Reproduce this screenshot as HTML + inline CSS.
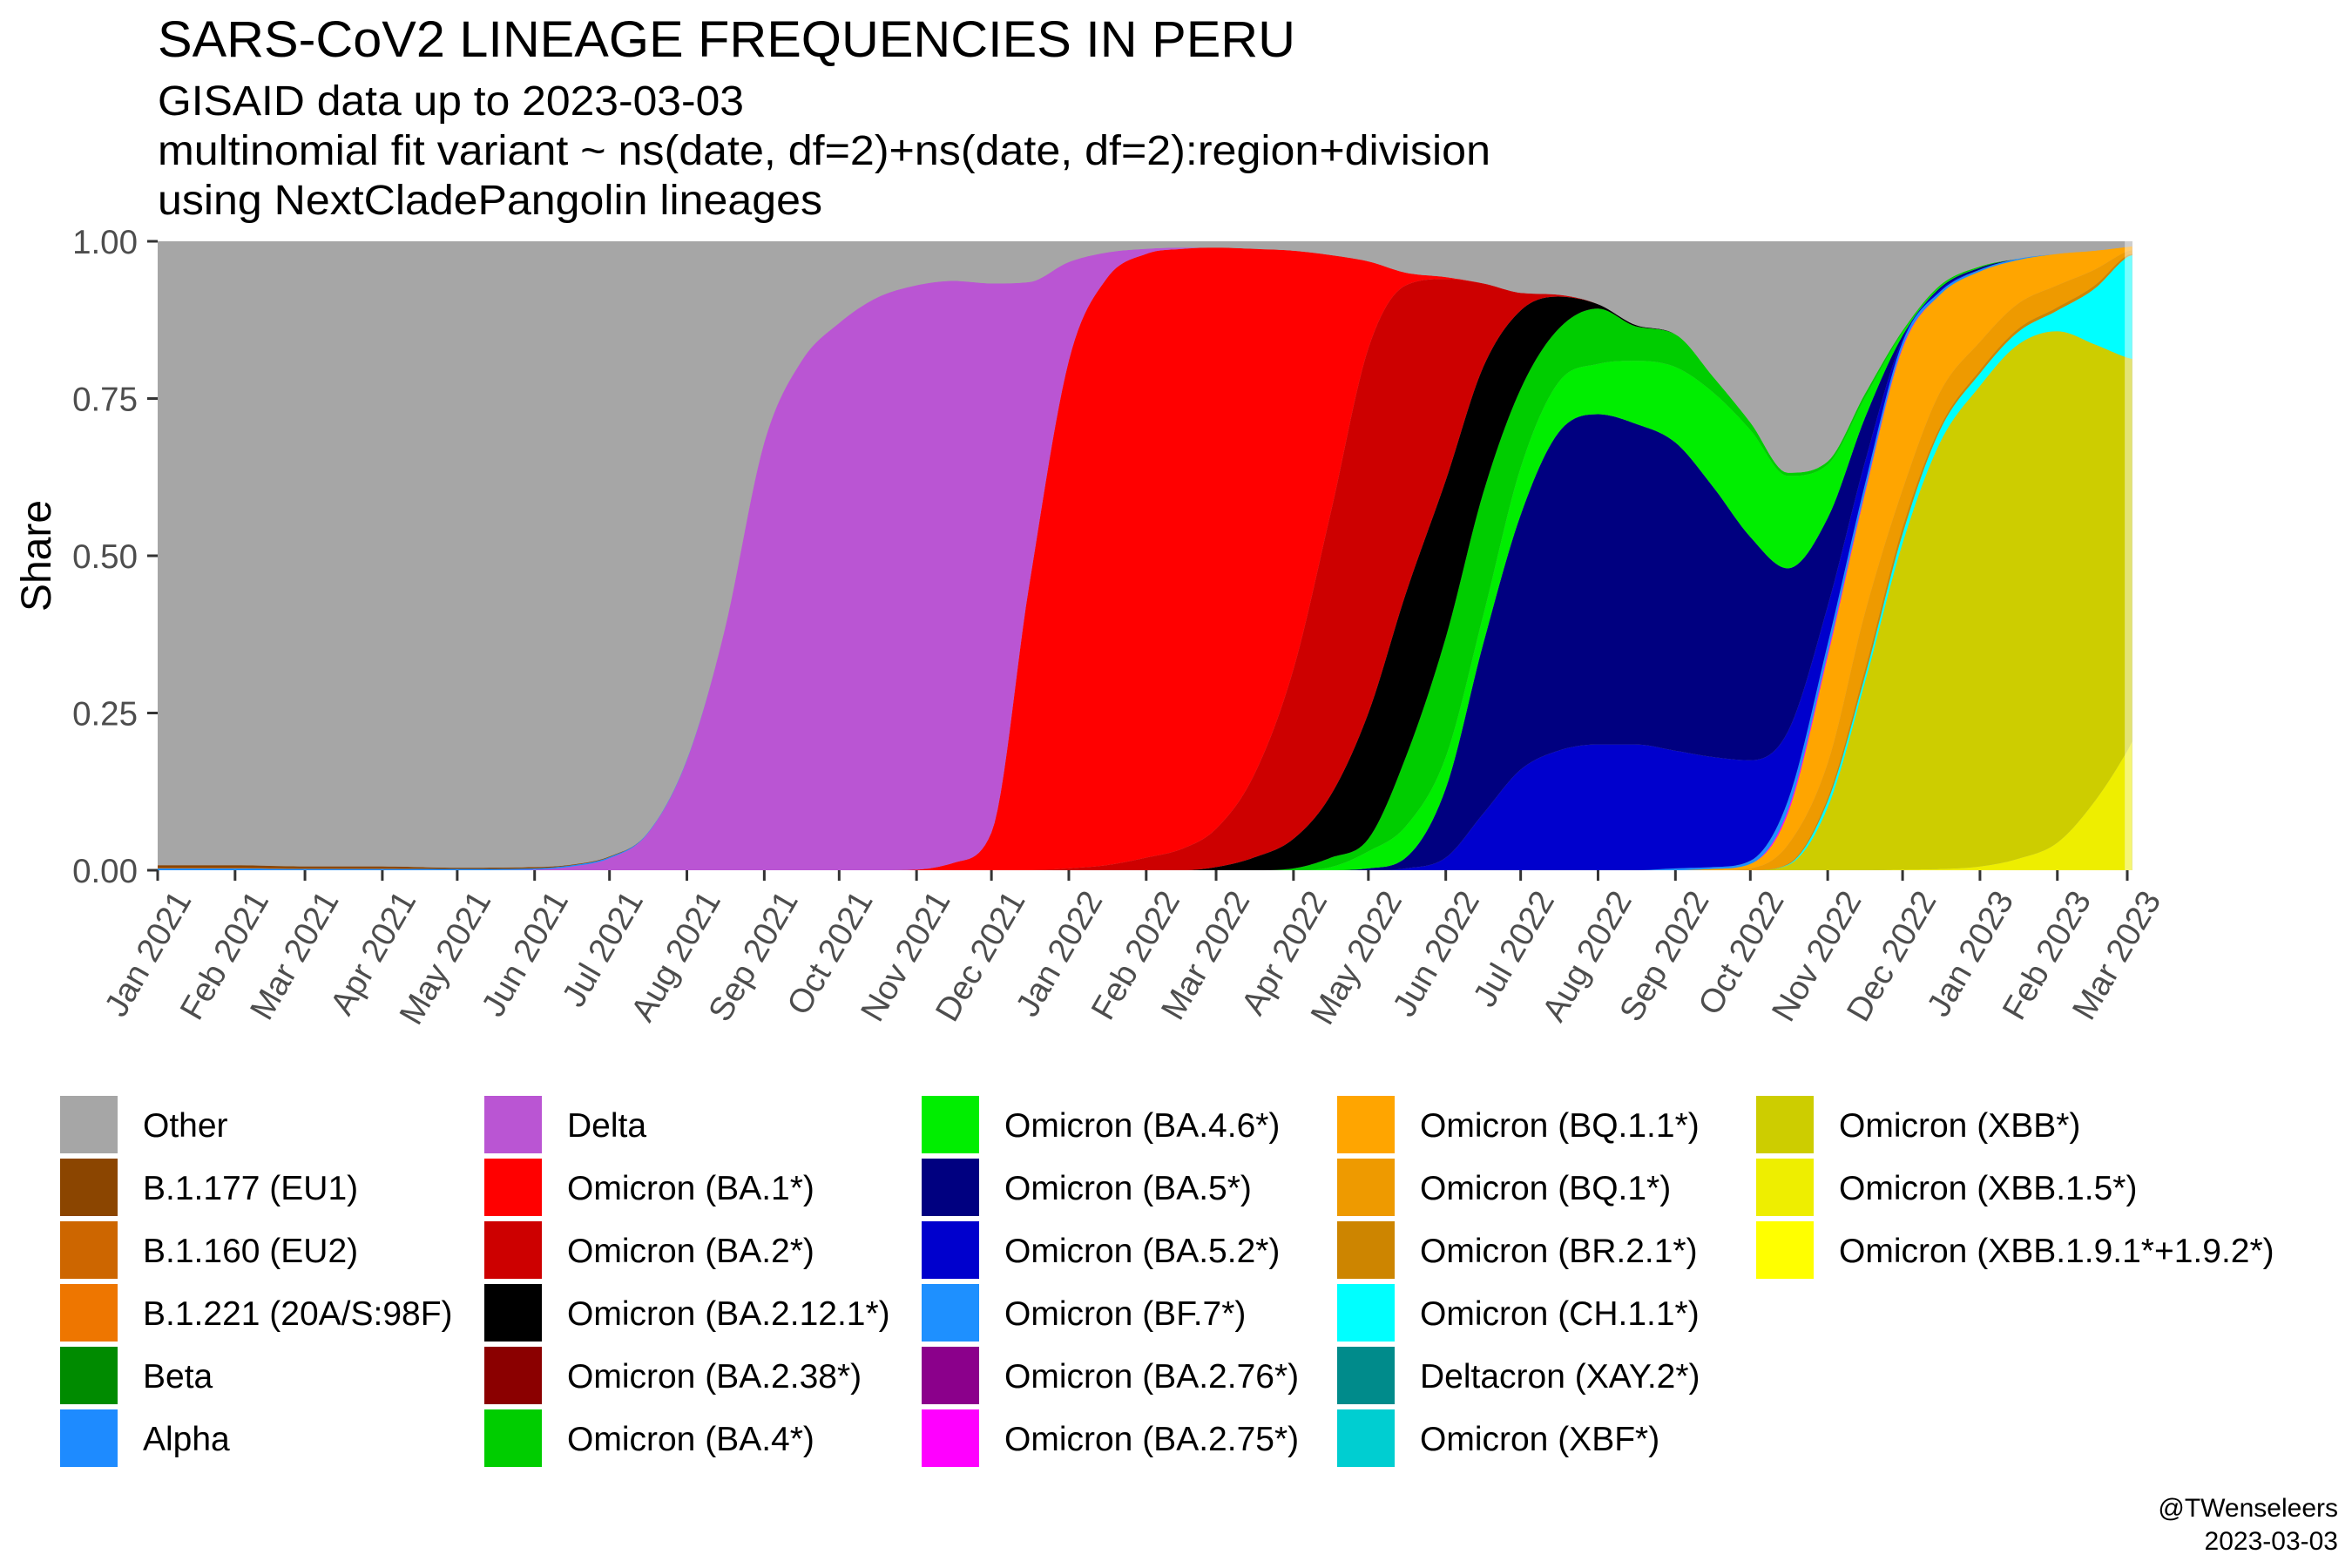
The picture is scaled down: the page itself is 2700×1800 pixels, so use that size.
<!DOCTYPE html>
<html><head><meta charset="utf-8">
<style>
html,body{margin:0;padding:0;background:#fff;}
svg{display:block;font-family:"Liberation Sans",Arial,sans-serif;}
</style></head>
<body>
<svg id="chart" width="2700" height="1800" viewBox="0 0 2700 1800">
  <text x="181" y="65" font-size="58" fill="#000" textLength="1306" lengthAdjust="spacingAndGlyphs">SARS-CoV2 LINEAGE FREQUENCIES IN PERU</text>
  <text x="181" y="132" font-size="48" fill="#000" textLength="673" lengthAdjust="spacingAndGlyphs">GISAID data up to 2023-03-03</text>
  <text x="181" y="189" font-size="48" fill="#000" textLength="1530" lengthAdjust="spacingAndGlyphs">multinomial fit variant ~ ns(date, df=2)+ns(date, df=2):region+division</text>
  <text x="181" y="246" font-size="48" fill="#000" textLength="763" lengthAdjust="spacingAndGlyphs">using NextCladePangolin lineages</text>
  <rect x="181" y="277" width="2267" height="722" fill="#A6A6A6"/>
  <g id="areas"></g>
  <g id="yaxis"></g>
  <g id="xaxis"></g>
  <text x="0" y="0" font-size="48" fill="#000" text-anchor="middle" transform="translate(58,638) rotate(-90)">Share</text>
  <g id="legend"></g>
  <text x="2684" y="1741" font-size="30" fill="#000" text-anchor="end">@TWenseleers</text>
  <text x="2684" y="1779" font-size="30" fill="#000" text-anchor="end">2023-03-03</text>
</svg>
<script>
const dates = ["2021-01-01","2021-02-01","2021-03-01","2021-04-01","2021-05-01","2021-06-01","2021-06-16","2021-07-01","2021-07-16","2021-08-01",
"2021-08-16","2021-09-01","2021-09-16","2021-10-01","2021-10-16","2021-11-01","2021-11-16","2021-12-01","2021-12-16","2022-01-01",
"2022-01-16","2022-02-01","2022-02-16","2022-03-01","2022-03-16","2022-04-01","2022-04-16","2022-05-01","2022-05-16","2022-06-01",
"2022-06-16","2022-07-01","2022-07-16","2022-08-01","2022-08-16","2022-09-01","2022-09-16","2022-10-01","2022-10-16","2022-11-01",
"2022-11-16","2022-12-01","2022-12-16","2023-01-01","2023-01-16","2023-02-01","2023-02-16","2023-03-01","2023-03-03"];

const xbb191 = [0,0,0,0,0,0,0,0,0,0, 0,0,0,0,0,0,0,0,0,0, 0,0,0,0,0,0,0,0,0,0, 0,0,0,0,0,0,0,0,0,0, 0,0,0,0,0,0,0,0,0];
const xbb15  = [0,0,0,0,0,0,0,0,0,0, 0,0,0,0,0,0,0,0,0,0, 0,0,0,0,0,0,0,0,0,0, 0,0,0,0,0,0,0,0,0,0, 0,.001,.002,.006,.018,.044,.11,.19,.205];
const xbb    = [0,0,0,0,0,0,0,0,0,0, 0,0,0,0,0,0,0,0,0,0, 0,0,0,0,0,0,0,0,0,0, 0,0,0,0,0,0,0,0,.008,.10, .30,.519,.678,.764,.817,.813,.726,.625,.608];
const xbf    = [0,0,0,0,0,0,0,0,0,0, 0,0,0,0,0,0,0,0,0,0, 0,0,0,0,0,0,0,0,0,0, 0,0,0,0,0,0,0,0,0,0, 0,0,0,0,0,0,0,0,0];
const xay2   = [0,0,0,0,0,0,0,0,0,0, 0,0,0,0,0,0,0,0,0,0, 0,0,0,0,0,0,0,0,0,0, 0,0,0,0,0,0,0,0,0,0, 0,0,0,0,0,0,0,0,0];
const ch11   = [0,0,0,0,0,0,0,0,0,0, 0,0,0,0,0,0,0,0,0,0, 0,0,0,0,0,0,0,0,0,0, 0,0,0,0,0,0,0,0,.001,.01, .01,.015,.02,.02,.02,.033,.089,.16,.165];
const br21   = [0,0,0,0,0,0,0,0,0,0, 0,0,0,0,0,0,0,0,0,0, 0,0,0,0,0,0,0,0,0,0, 0,0,0,0,0,0,0,0,.001,.005, .01,.01,.005,.005,.005,.005,.005,.003,.002];
const bq1    = [0,0,0,0,0,0,0,0,0,0, 0,0,0,0,0,0,0,0,0,0, 0,0,0,0,0,0,0,0,0,0, 0,0,0,0,0,0,0,.003,.03,.055, .09,.06,.055,.045,.04,.035,.025,.006,.006];
const bq11   = [0,0,0,0,0,0,0,0,0,0, 0,0,0,0,0,0,0,0,0,0, 0,0,0,0,0,0,0,0,0,0, 0,0,0,0,0,0,.002,.007,.05,.17, .19,.225,.155,.112,.07,.05,.03,.007,.006];
const ba275  = [0,0,0,0,0,0,0,0,0,0, 0,0,0,0,0,0,0,0,0,0, 0,0,0,0,0,0,0,0,0,0, 0,0,0,0,0,0,0,0,.005,.005, .003,.002,0,0,0,0,0,0,0];
const ba276  = [0,0,0,0,0,0,0,0,0,0, 0,0,0,0,0,0,0,0,0,0, 0,0,0,0,0,0,0,0,0,0, 0,0,0,0,0,0,0,0,0,0, 0,0,0,0,0,0,0,0,0];
const bf7    = [0,0,0,0,0,0,0,0,0,0, 0,0,0,0,0,0,0,0,0,0, 0,0,0,0,0,0,0,0,0,0, 0,0,0,0,0,.003,.003,.005,.015,.015, .012,.008,.005,.003,.002,0,0,0,0];
const ba52   = [0,0,0,0,0,0,0,0,0,0, 0,0,0,0,0,0,0,0,0,0, 0,0,0,0,0,0,0,0,.003,.02, .09,.16,.19,.2,.2,.187,.175,.16,.11,.06, .035,.005,.003,0,0,0,0,0,0];
const ba5    = [0,0,0,0,0,0,0,0,0,0, 0,0,0,0,0,0,0,0,0,0, 0,0,0,0,0,0,0,.003,.017,.11, .27,.405,.505,.525,.51,.49,.43,.355,.26,.14, .07,.005,.003,.003,0,0,0,0,0];
const ba46   = [0,0,0,0,0,0,0,0,0,0, 0,0,0,0,0,0,0,0,0,0, 0,0,0,0,0,0,.005,.027,.05,.05, .045,.075,.08,.08,.1,.12,.15,.17,.147,.085, .032,.005,.002,0,0,0,0,0,0];
const ba4    = [0,0,0,0,0,0,0,0,0,0, 0,0,0,0,0,0,0,0,0,0, 0,0,0,0,0,.003,.015,.02,.11,.19, .195,.125,.085,.088,.055,.052,.025,.012,.005,.005, .006,.003,.002,.002,0,0,0,0,0];
const ba238  = [0,0,0,0,0,0,0,0,0,0, 0,0,0,0,0,0,0,0,0,0, 0,0,0,0,0,0,0,0,0,0, 0,0,0,0,0,0,0,0,0,0, 0,0,0,0,0,0,0,0,0];
const ba2121 = [0,0,0,0,0,0,0,0,0,0, 0,0,0,0,0,0,0,0,0,0, 0,0,0,.005,.02,.047,.10,.2,.26,.25, .20,.125,.052,.007,.002,0,0,0,0,0, 0,0,0,0,0,0,0,0,0];
const ba2    = [0,0,0,0,0,0,0,0,0,0, 0,0,0,0,0,0,0,0,0,.003, .008,.02,.035,.061,.13,.27,.45,.58,.49,.32, .133,.028,.003,0,0,0,0,0,0,0, 0,0,0,0,0,0,0,0,0];
const ba1    = [0,0,0,0,0,0,0,0,0,0, 0,0,0,0,0,.001,.012,.06,.45,.807, .932,.96,.953,.924,.838,.665,.408,.138,.02,.003, 0,0,0,0,0,0,0,0,0,0, 0,0,0,0,0,0,0,0,0];
const delta  = [0,0,0,0,0,.001,.006,.019,.057,.175, .38,.68,.81,.87,.91,.929,.925,.873,.485,.157, .042,.008,.002,0,0,0,0,0,0,0, 0,0,0,0,0,0,0,0,0,0, 0,0,0,0,0,0,0,0,0];
const alpha  = [.003,.003,.002,.002,.002,.002,.002,.002,.001,.001, 0,0,0,0,0,0,0,0,0,0, 0,0,0,0,0,0,0,0,0,0, 0,0,0,0,0,0,0,0,0,0, 0,0,0,0,0,0,0,0,0];
const beta   = [0,0,0,0,0,0,0,0,0,0, 0,0,0,0,0,0,0,0,0,0, 0,0,0,0,0,0,0,0,0,0, 0,0,0,0,0,0,0,0,0,0, 0,0,0,0,0,0,0,0,0];
const b1221  = [0,0,0,0,0,0,0,0,0,0, 0,0,0,0,0,0,0,0,0,0, 0,0,0,0,0,0,0,0,0,0, 0,0,0,0,0,0,0,0,0,0, 0,0,0,0,0,0,0,0,0];
const b1160  = [.001,.001,.001,.001,0,0,0,0,0,0, 0,0,0,0,0,0,0,0,0,0, 0,0,0,0,0,0,0,0,0,0, 0,0,0,0,0,0,0,0,0,0, 0,0,0,0,0,0,0,0,0];
const b1177  = [.004,.004,.003,.003,.002,.002,.001,.001,0,0, 0,0,0,0,0,0,0,0,0,0, 0,0,0,0,0,0,0,0,0,0, 0,0,0,0,0,0,0,0,0,0, 0,0,0,0,0,0,0,0,0];
const other  = [.992,.992,.994,.994,.996,.995,.991,.978,.942,.824, .62,.32,.19,.13,.09,.07,.063,.067,.065,.033, .018,.012,.01,.01,.012,.015,.022,.032,.05,.057, .067,.082,.085,.10,.133,.148,.215,.288,.368,.35, .242,.142,.07,.04,.028,.02,.015,.009,.008];

const yTicks = [0, 0.25, 0.5, 0.75, 1];
const yTickLabels = ["0.00","0.25","0.50","0.75","1.00"];
const xTickDates = ["2021-01-01","2021-02-01","2021-03-01","2021-04-01","2021-05-01","2021-06-01","2021-07-01","2021-08-01","2021-09-01","2021-10-01","2021-11-01","2021-12-01","2022-01-01","2022-02-01","2022-03-01","2022-04-01","2022-05-01","2022-06-01","2022-07-01","2022-08-01","2022-09-01","2022-10-01","2022-11-01","2022-12-01","2023-01-01","2023-02-01","2023-03-01"];
const xTickLabels = ["Jan 2021","Feb 2021","Mar 2021","Apr 2021","May 2021","Jun 2021","Jul 2021","Aug 2021","Sep 2021","Oct 2021","Nov 2021","Dec 2021","Jan 2022","Feb 2022","Mar 2022","Apr 2022","May 2022","Jun 2022","Jul 2022","Aug 2022","Sep 2022","Oct 2022","Nov 2022","Dec 2022","Jan 2023","Feb 2023","Mar 2023"];

// stack order bottom -> top
const layers = [
 {key:"xbb191", label:"Omicron (XBB.1.9.1*+1.9.2*)", color:"#FFFF00", v:xbb191},
 {key:"xbb15", label:"Omicron (XBB.1.5*)", color:"#EEEE00", v:xbb15},
 {key:"xbb", label:"Omicron (XBB*)", color:"#CDCD00", v:xbb},
 {key:"xbf", label:"Omicron (XBF*)", color:"#00CED1", v:xbf},
 {key:"xay2", label:"Deltacron (XAY.2*)", color:"#008B8B", v:xay2},
 {key:"ch11", label:"Omicron (CH.1.1*)", color:"#00FFFF", v:ch11},
 {key:"br21", label:"Omicron (BR.2.1*)", color:"#CD8500", v:br21},
 {key:"bq1", label:"Omicron (BQ.1*)", color:"#EE9A00", v:bq1},
 {key:"bq11", label:"Omicron (BQ.1.1*)", color:"#FFA500", v:bq11},
 {key:"ba275", label:"Omicron (BA.2.75*)", color:"#FF00FF", v:ba275},
 {key:"ba276", label:"Omicron (BA.2.76*)", color:"#8B008B", v:ba276},
 {key:"bf7", label:"Omicron (BF.7*)", color:"#1E90FF", v:bf7},
 {key:"ba52", label:"Omicron (BA.5.2*)", color:"#0000CD", v:ba52},
 {key:"ba5", label:"Omicron (BA.5*)", color:"#000080", v:ba5},
 {key:"ba46", label:"Omicron (BA.4.6*)", color:"#00EE00", v:ba46},
 {key:"ba4", label:"Omicron (BA.4*)", color:"#00CD00", v:ba4},
 {key:"ba238", label:"Omicron (BA.2.38*)", color:"#8B0000", v:ba238},
 {key:"ba2121", label:"Omicron (BA.2.12.1*)", color:"#000000", v:ba2121},
 {key:"ba2", label:"Omicron (BA.2*)", color:"#CD0000", v:ba2},
 {key:"ba1", label:"Omicron (BA.1*)", color:"#FF0000", v:ba1},
 {key:"delta", label:"Delta", color:"#BA55D3", v:delta},
 {key:"alpha", label:"Alpha", color:"#1E8BFF", v:alpha},
 {key:"beta", label:"Beta", color:"#008B00", v:beta},
 {key:"b1221", label:"B.1.221 (20A/S:98F)", color:"#EE7600", v:b1221},
 {key:"b1160", label:"B.1.160 (EU2)", color:"#CD6600", v:b1160},
 {key:"b1177", label:"B.1.177 (EU1)", color:"#8B4500", v:b1177},
 {key:"other", label:"Other", color:"#A6A6A6", v:other}
];
const legendColumns = [
 ["other","b1177","b1160","b1221","beta","alpha"],
 ["delta","ba1","ba2","ba2121","ba238","ba4"],
 ["ba46","ba5","ba52","bf7","ba276","ba275"],
 ["bq11","bq1","br21","ch11","xay2","xbf"],
 ["xbb","xbb15","xbb191"]
];

const NS = "http://www.w3.org/2000/svg";
const PX0 = 181, PY0 = 277, PY1 = 999, PXR = 2448;
const T0 = Date.UTC(2021,0,1);
function dayOf(s){ const p = s.split("-"); return (Date.UTC(+p[0], +p[1]-1, +p[2]) - T0) / 86400000; }
const pxPerDay = (2442 - 181) / dayOf("2023-03-01");
function xScale(d){ return PX0 + d * pxPerDay; }
function yScale(v){ return PY1 - v * (PY1 - PY0); }

function monotone(xs, ys){
  const n = xs.length, d = [], m = new Array(n);
  for (let i=0;i<n-1;i++) d.push((ys[i+1]-ys[i])/(xs[i+1]-xs[i]));
  m[0]=d[0]; m[n-1]=d[n-2];
  for (let i=1;i<n-1;i++){ m[i] = (d[i-1]*d[i] <= 0) ? 0 : (d[i-1]+d[i])/2; }
  for (let i=0;i<n-1;i++){
    if (d[i]===0){ m[i]=0; m[i+1]=0; continue; }
    const a=m[i]/d[i], b=m[i+1]/d[i], s=a*a+b*b;
    if (s>9){ const t=3/Math.sqrt(s); m[i]=t*a*d[i]; m[i+1]=t*b*d[i]; }
  }
  return function(x){
    let i=0; while(i<n-2 && x>xs[i+1]) i++;
    const h=xs[i+1]-xs[i], t=(x-xs[i])/h, t2=t*t, t3=t2*t;
    return (2*t3-3*t2+1)*ys[i] + (t3-2*t2+t)*h*m[i] + (-2*t3+3*t2)*ys[i+1] + (t3-t2)*h*m[i+1];
  };
}

const days = dates.map(dayOf);
const sx = [];
for (let i=0;i<days.length-1;i++){ const S=12; for (let k=0;k<S;k++) sx.push(days[i]+(days[i+1]-days[i])*k/S); }
sx.push(days[days.length-1]);

// interpolate cumulative boundaries (smoother than per-series)
const areas = document.getElementById("areas");
let cumGrid = days.map(()=>0);
let base = sx.map(()=>0);
layers.forEach(L=>{
  cumGrid = cumGrid.map((c,i)=>c + L.v[i]);
  const f = monotone(days, cumGrid);
  const top = sx.map((x,i)=>Math.min(1, Math.max(base[i], f(x))));
  let dstr = "M";
  for (let i=0;i<sx.length;i++) dstr += (i?" L":"") + xScale(sx[i]).toFixed(2)+","+yScale(top[i]).toFixed(2);
  for (let i=sx.length-1;i>=0;i--) dstr += " L"+xScale(sx[i]).toFixed(2)+","+yScale(base[i]).toFixed(2);
  dstr += " Z";
  const p = document.createElementNS(NS,"path");
  p.setAttribute("d", dstr);
  p.setAttribute("fill", L.color);
  
  
  areas.appendChild(p);
  base = top;
});
const fade = document.createElementNS(NS,"rect");
fade.setAttribute("x", xScale(dayOf("2023-02-28")));
fade.setAttribute("y", PY0);
fade.setAttribute("width", PXR - xScale(dayOf("2023-02-28")));
fade.setAttribute("height", PY1-PY0);
fade.setAttribute("fill", "#fff");
fade.setAttribute("opacity", "0.45");


areas.appendChild(fade);

const yg = document.getElementById("yaxis");
yTicks.forEach((v,i)=>{
  const y = yScale(v);
  const l = document.createElementNS(NS,"line");
  l.setAttribute("x1",169); l.setAttribute("x2",181); l.setAttribute("y1",y); l.setAttribute("y2",y);
  l.setAttribute("stroke","#333"); l.setAttribute("stroke-width","3");
  
  
  yg.appendChild(l);
  const t = document.createElementNS(NS,"text");
  t.setAttribute("x",158); t.setAttribute("y",y+14); t.setAttribute("text-anchor","end");
  t.setAttribute("font-size","38.5"); t.setAttribute("fill","#4D4D4D");
  t.textContent = yTickLabels[i];
  
  
  yg.appendChild(t);
});
const xg = document.getElementById("xaxis");
xTickDates.forEach((ds,i)=>{
  const x = xScale(dayOf(ds));
  const l = document.createElementNS(NS,"line");
  l.setAttribute("x1",x); l.setAttribute("x2",x); l.setAttribute("y1",999); l.setAttribute("y2",1011);
  l.setAttribute("stroke","#333"); l.setAttribute("stroke-width","3");
  
  
  xg.appendChild(l);
  const t = document.createElementNS(NS,"text");
  t.setAttribute("x",0); t.setAttribute("y",0); t.setAttribute("text-anchor","end");
  t.setAttribute("font-size","38.5"); t.setAttribute("fill","#4D4D4D");
  t.setAttribute("dominant-baseline","hanging");
  t.setAttribute("transform","translate("+(x+16).toFixed(1)+",1019) rotate(-60)");
  t.textContent = xTickLabels[i];
  
  
  xg.appendChild(t);
});
const lg = document.getElementById("legend");
const colX = [69, 556, 1058, 1535, 2016];
legendColumns.forEach((col,ci)=>{
  col.forEach((k,ri)=>{
    const L = layers.find(z=>z.key===k);
    const y = 1258 + ri*72;
    const g = document.createElementNS(NS,"g");
    
    
    const r = document.createElementNS(NS,"rect");
    r.setAttribute("x",colX[ci]); r.setAttribute("y",y); r.setAttribute("width",66); r.setAttribute("height",66);
    r.setAttribute("fill",L.color);
    
    
    g.appendChild(r);
    const t = document.createElementNS(NS,"text");
    t.setAttribute("x",colX[ci]+95); t.setAttribute("y",y+47);
    t.setAttribute("font-size","39"); t.setAttribute("fill","#000");
    t.textContent = L.label;
    
    
    g.appendChild(t);
    lg.appendChild(g);
  });
});
</script>
</body></html>
